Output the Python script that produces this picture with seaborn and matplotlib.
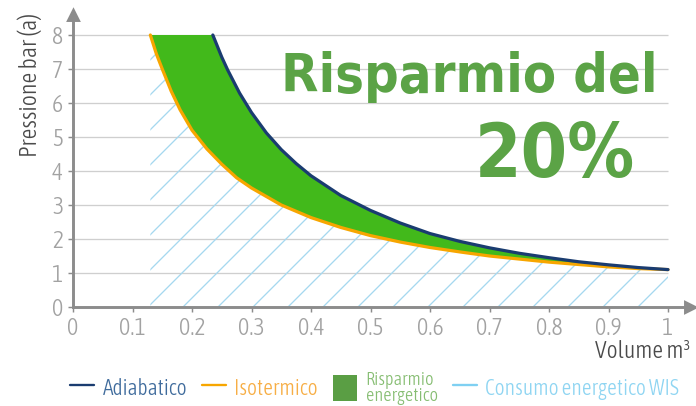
import numpy as np
import pandas as pd
import seaborn as sns
import matplotlib.pyplot as plt
from matplotlib import font_manager
from matplotlib.font_manager import FontProperties
from matplotlib.lines import Line2D
from matplotlib.patches import Patch


# Isothermal compression curve (volume m3 -> pressure bar)
volume_iso = [0.13, 0.14, 0.15, 0.165, 0.18, 0.2, 0.225, 0.25, 0.275, 0.3, 0.35, 0.4,
              0.45, 0.5, 0.55, 0.6, 0.65, 0.7, 0.75, 0.8, 0.85, 0.9, 0.95, 1.0]
pressure_iso = [8.0, 7.45, 7.0, 6.35, 5.8, 5.2, 4.65, 4.2, 3.8, 3.5, 3.0, 2.63,
                2.34, 2.1, 1.91, 1.75, 1.62, 1.5, 1.41, 1.32, 1.25, 1.18, 1.13, 1.1]

# Adiabatic compression curve
volume_adia = [0.235, 0.25, 0.26, 0.28, 0.3, 0.325, 0.35, 0.375, 0.4, 0.45, 0.5,
               0.55, 0.6, 0.65, 0.7, 0.75, 0.8, 0.85, 0.9, 0.95, 1.0]
pressure_adia = [8.0, 7.35, 6.97, 6.29, 5.72, 5.12, 4.63, 4.22, 3.86, 3.28, 2.84,
                 2.47, 2.16, 1.93, 1.74, 1.58, 1.45, 1.33, 1.24, 1.16, 1.1]

x_ticks = [0, 0.1, 0.2, 0.3, 0.4, 0.5, 0.6, 0.7, 0.8, 0.9, 1.0]
x_tick_labels = ["0", "0.1", "0.2", "0.3", "0.4", "0.5", "0.6", "0.7", "0.8", "0.9", "1"]
y_ticks = [0, 1, 2, 3, 4, 5, 6, 7, 8]

legend_labels = ["Adiabatico", "Isotermico", "Risparmio\nenergetico", "Consumo energetico WIS"]

DPI = 210  # high dpi so the hatch gets the wide spacing of the original
W, H = 696, 406
NAVY = "#1a3c70"
ORANGE = "#f7a600"
FILL_GREEN = "#42b91b"
TEXT_GREEN = "#5ba346"
PATCH_GREEN = "#5a9e44"
HATCH_BLUE = "#a6d8ef"
AXIS_GRAY = "#8c8c8c"
GRID_GRAY = "#cfcfcf"

sns.set_theme(style="white")
plt.rcParams["font.family"] = ["Liberation Sans", "DejaVu Sans"]
plt.rcParams["hatch.linewidth"] = 0.45


def find_font(bold):
    # look for a condensed / narrow face, the original uses a condensed sans
    best = None
    for f in font_manager.fontManager.ttflist:
        tag = (f.name + " " + f.fname).lower()
        narrow = ("condensed" in str(f.stretch) or "condensed" in tag or "narrow" in tag)
        if not narrow or f.style != "normal" or "italic" in tag or "extra" in tag or "ultra" in tag:
            continue
        w = f.weight if isinstance(f.weight, int) else (700 if f.weight == "bold" else 400)
        if bold and w >= 700 and w <= 800:
            return FontProperties(fname=f.fname)
        if not bold and 300 <= w <= 400:
            if best is None or w < best[0]:
                best = (w, f.fname)
    if best is not None:
        return FontProperties(fname=best[1])
    return FontProperties(family=["Liberation Sans", "DejaVu Sans"],
                          weight="bold" if bold else "normal")


REG = find_font(False)
BOLD = find_font(True)


def fp(base, size):
    p = base.copy()
    p.set_size(size)
    return p


def fit_size(fig, txt, length_px, vertical=False):
    fig.canvas.draw()
    bb = txt.get_window_extent()
    cur = bb.height if vertical else bb.width
    txt.set_fontsize(txt.get_fontsize() * length_px / cur)


iso = pd.DataFrame({"volume": volume_iso, "pressure": pressure_iso})
adia = pd.DataFrame({"volume": volume_adia, "pressure": pressure_adia})

fig = plt.figure(figsize=(W / DPI, H / DPI), dpi=DPI)
ax = fig.add_axes([73 / W, 99 / H, 617 / W, 292 / H])
ax.set_xlim(0, 617 / 595)
ax.set_ylim(0, 292 / 34)

# Gridlines only up to x = 1
ax.hlines(y_ticks[1:], 0, 1, color=GRID_GRAY, lw=0.45, zorder=0)

# Hatched "consumo" area under the isothermal curve
ax.fill_between(iso["volume"], 0, iso["pressure"], facecolor="none",
                edgecolor=HATCH_BLUE, hatch="//", linewidth=0, zorder=1)

# Green savings area between the two curves
ax.fill(np.concatenate([volume_iso, volume_adia[::-1]]),
        np.concatenate([pressure_iso, pressure_adia[::-1]]),
        color=FILL_GREEN, lw=0, zorder=2)

sns.lineplot(data=iso, x="volume", y="pressure", color=ORANGE, lw=1.1, ax=ax, zorder=3)
sns.lineplot(data=adia, x="volume", y="pressure", color=NAVY, lw=1.1, ax=ax, zorder=4)

# Axes styling
for side in ["top", "right"]:
    ax.spines[side].set_visible(False)
for side in ["left", "bottom"]:
    ax.spines[side].set_color(AXIS_GRAY)
    ax.spines[side].set_linewidth(1.0)
ax.plot(1, 0, ">", transform=ax.transAxes, clip_on=False, color=AXIS_GRAY, ms=3.2, zorder=5)
ax.plot(0, 1, "^", transform=ax.transAxes, clip_on=False, color=AXIS_GRAY, ms=3.2, zorder=5)

ax.set_xticks(x_ticks, x_tick_labels)
ax.set_yticks(y_ticks)
ax.tick_params(axis="both", direction="out", length=1.7, width=0.5, color=AXIS_GRAY,
               labelcolor="#a2a2a2", pad=1.6, bottom=True, left=True)
for lab in ax.get_xticklabels() + ax.get_yticklabels():
    lab.set_fontproperties(fp(REG, 8.2))
ax.set_xlabel("")
ax.set_ylabel("")

xl = fig.text(690 / W, 1 - 352 / H, "Volume m³", ha="right", va="center",
              color="#4a4a4a", fontproperties=fp(REG, 8))
yl = fig.text(30 / W, 1 - 85 / H, "Pressione bar (a)", ha="center", va="center",
              rotation=90, color="#4a4a4a", fontproperties=fp(REG, 8))

# Headline
t1 = ax.text(0.983, 6.32, "Risparmio del", ha="right", va="baseline", color=TEXT_GREEN,
             fontproperties=fp(BOLD, 20.5), zorder=6)
t2 = ax.text(0.945, 3.82, "20%", ha="right", va="baseline", color=TEXT_GREEN,
             fontproperties=fp(BOLD, 28), zorder=6)
fit_size(fig, t1, 376)
fit_size(fig, t2, 160)
fit_size(fig, xl, 95)
fit_size(fig, yl, 144, vertical=True)

# Legend
handles = [
    Line2D([], [], color=NAVY, lw=0.8),
    Line2D([], [], color=ORANGE, lw=0.8),
    Patch(facecolor=PATCH_GREEN, edgecolor="none"),
    Line2D([], [], color="#7fd0f2", lw=0.8),
]
text_colors = ["#3f6b9c", "#f7ae45", "#86bd72", "#8fd5f2"]
leg_size = 8.6
col_space = 1.2
while True:
    leg = fig.legend(handles, legend_labels, ncol=4, loc="center left",
                     bbox_to_anchor=(70 / W, 1 - 388 / H), frameon=False,
                     prop=fp(REG, leg_size), handlelength=1.1, handleheight=1.45,
                     handletextpad=0.4, columnspacing=col_space, borderaxespad=0,
                     borderpad=0)
    for txt, col in zip(leg.get_texts(), text_colors):
        txt.set_color(col)
    leg.get_texts()[2].set_fontsize(leg_size * 0.85)
    leg.get_texts()[2].set_linespacing(0.85)
    fig.canvas.draw()
    if leg.get_window_extent().x1 <= W - 1 or leg_size < 4:
        break
    leg.remove()
    if col_space > 0.7:
        col_space -= 0.1
    else:
        leg_size -= 0.2

fig.savefig("out.png", dpi=DPI)
